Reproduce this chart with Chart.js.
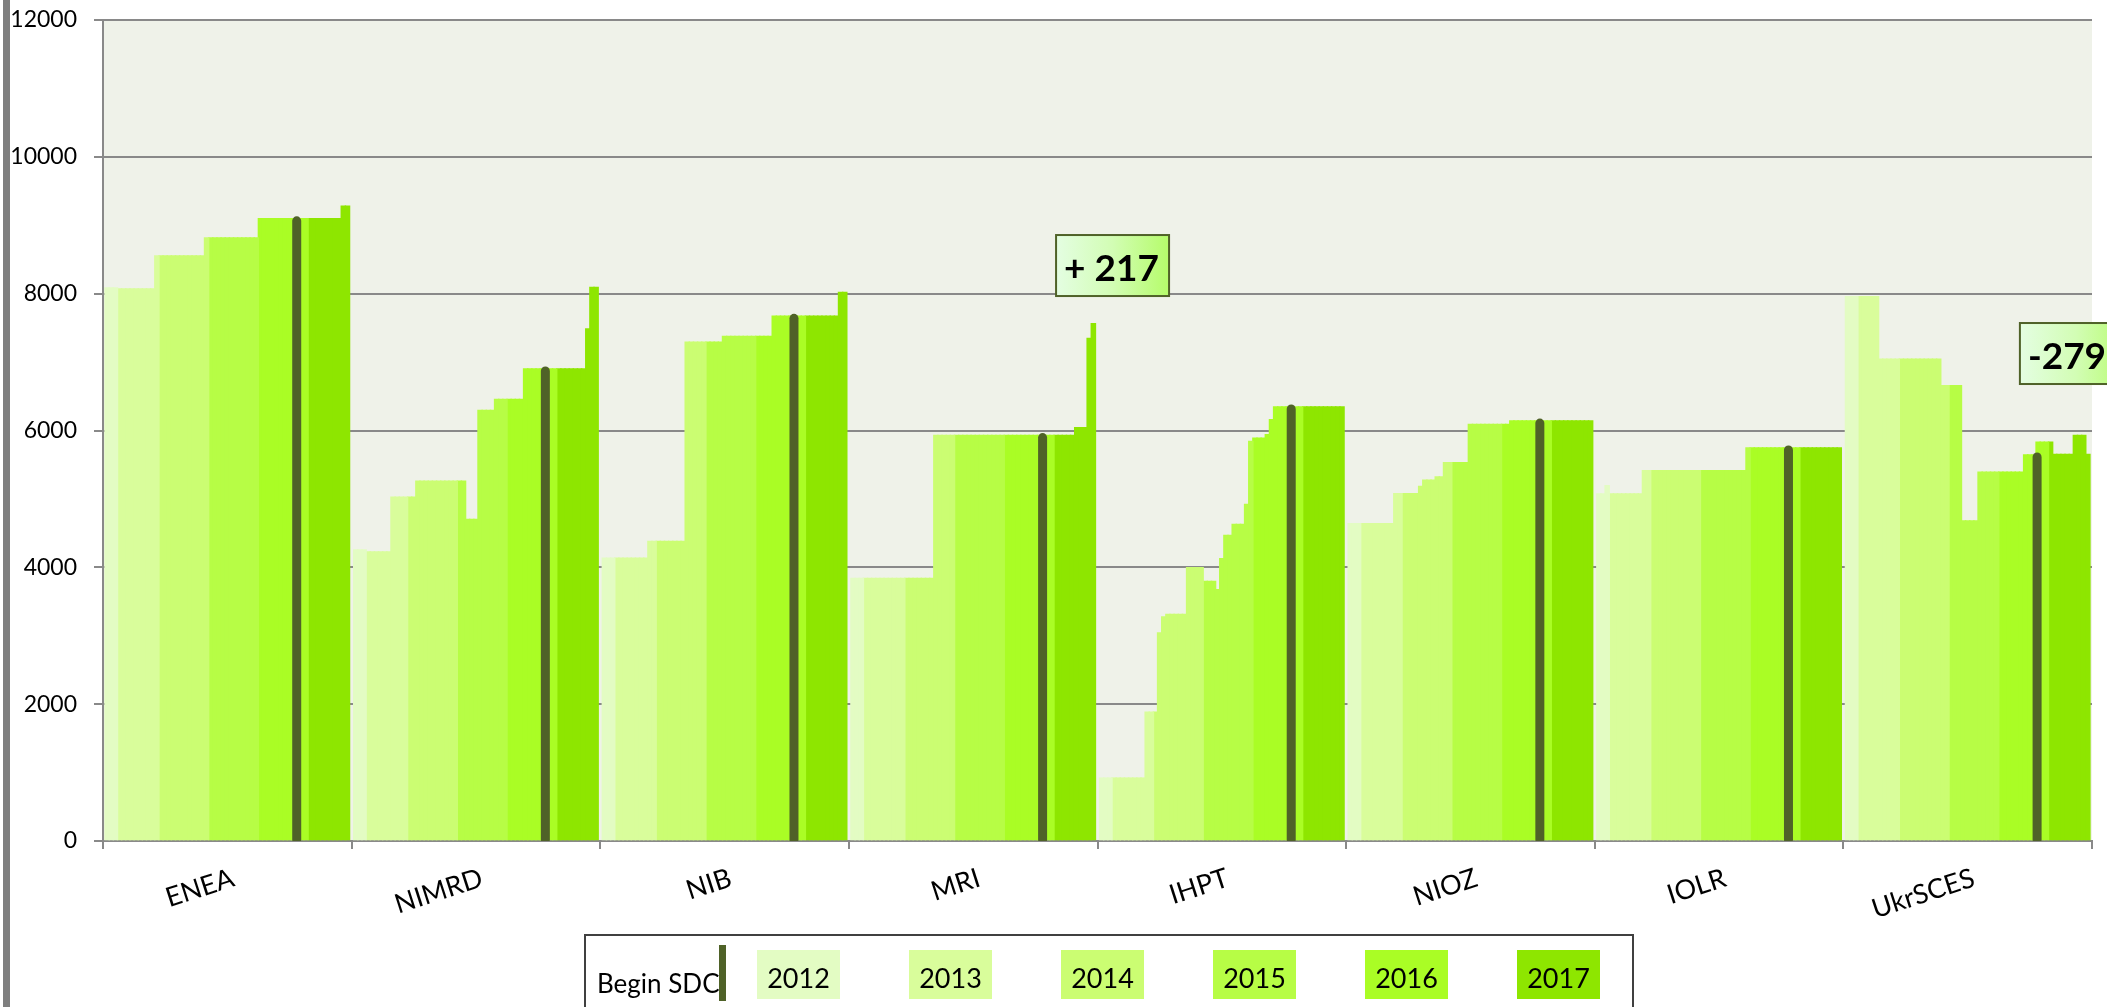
<!DOCTYPE html>
<html>
<head>
<meta charset="utf-8">
<script src="https://cdn.jsdelivr.net/npm/chart.js@4.4.1/dist/chart.umd.min.js"></script>
<style>
  html, body { margin: 0; padding: 0; background: #ffffff; overflow: hidden; }
  #wrap { position: relative; width: 2107px; height: 1007px; }
</style>
</head>
<body>
<div id="wrap"><canvas id="c" width="2107" height="1007"></canvas></div>
<script>
// ---------------- DATA ----------------
const institutes = ['ENEA', 'NIMRD', 'NIB', 'MRI', 'IHPT', 'NIOZ', 'IOLR', 'UkrSCES'];
const years = ['2012', '2013', '2014', '2015', '2016', '2017'];
const yTicks = [0, 2000, 4000, 6000, 8000, 10000, 12000];

// monthly values, one list per year (2012 ... 2017)
const ENEA = [
  [8090, 8090, 8090],
  [8075, 8075, 8075, 8075, 8075, 8075, 8075, 8075, 8075, 8558],
  [8558, 8558, 8558, 8558, 8558, 8558, 8558, 8558, 8558, 8558, 8558, 8820],
  [8820, 8820, 8820, 8820, 8820, 8820, 8820, 8820, 8820, 8820, 8820, 8820],
  [9100, 9100, 9100, 9100, 9100, 9100, 9100, 9100, 9100, 9100, 9100, 9100],
  [9100, 9100, 9100, 9100, 9100, 9100, 9100, 9100, 9285, 9285]
];
const NIMRD = [
  [4260, 4260, 4260],
  [4230, 4230, 4230, 4230, 4230, 4230, 5030, 5030, 5030, 5030],
  [5030, 5030, 5265, 5265, 5265, 5265, 5265, 5265, 5265, 5265, 5265, 5265],
  [5265, 5265, 4705, 4705, 4705, 6300, 6300, 6300, 6300, 6460, 6460, 6460],
  [6460, 6460, 6460, 6460, 6905, 6905, 6905, 6905, 6905, 6905, 6905, 6905],
  [6905, 6905, 6905, 6905, 6905, 6905, 6905, 7490, 8095, 8095]
];
const NIB = [
  [4140, 4140, 4140],
  [4140, 4140, 4140, 4140, 4140, 4140, 4140, 4140, 4385, 4385],
  [4385, 4385, 4385, 4385, 4385, 4385, 4385, 7295, 7295, 7295, 7295, 7295],
  [7295, 7295, 7295, 7295, 7380, 7380, 7380, 7380, 7380, 7380, 7380, 7380],
  [7380, 7380, 7380, 7380, 7675, 7675, 7675, 7675, 7675, 7675, 7675, 7675],
  [7675, 7675, 7675, 7675, 7675, 7675, 7675, 7675, 8025, 8025]
];
const MRI = [
  [3843, 3843, 3843],
  [3843, 3843, 3843, 3843, 3843, 3843, 3843, 3843, 3843, 3843],
  [3843, 3843, 3843, 3843, 3843, 3843, 3843, 5932, 5932, 5932, 5932, 5932],
  [5932, 5932, 5932, 5932, 5932, 5932, 5932, 5932, 5932, 5932, 5932, 5932],
  [5932, 5932, 5932, 5932, 5932, 5932, 5932, 5932, 5932, 5932, 5932, 5932],
  [5932, 5932, 5932, 5932, 5932, 6048, 6048, 6048, 7350, 7567]
];
const IHPT = [
  [925, 925, 925],
  [925, 925, 925, 925, 925, 925, 925, 925, 1890, 1890],
  [1890, 3045, 3280, 3318, 3318, 3318, 3318, 3318, 4000, 4000, 4000, 4000],
  [3800, 3800, 3800, 3678, 4132, 4472, 4472, 4633, 4633, 4633, 4926, 5846],
  [5895, 5895, 5895, 5945, 6165, 6350, 6350, 6350, 6350, 6350, 6350, 6350],
  [6350, 6350, 6350, 6350, 6350, 6350, 6350, 6350, 6350, 6350]
];
const NIOZ = [
  [4642, 4642, 4642],
  [4642, 4642, 4642, 4642, 4642, 4642, 4642, 4642, 5083, 5083],
  [5083, 5083, 5083, 5083, 5187, 5278, 5278, 5278, 5328, 5328, 5534, 5534],
  [5534, 5534, 5534, 5534, 6096, 6096, 6096, 6096, 6096, 6096, 6096, 6096],
  [6096, 6096, 6144, 6144, 6144, 6144, 6144, 6144, 6144, 6144, 6144, 6144],
  [6144, 6144, 6144, 6144, 6144, 6144, 6144, 6144, 6144, 6144]
];
const IOLR = [
  [5079, 5079, 5200],
  [5079, 5079, 5079, 5079, 5079, 5079, 5079, 5079, 5418, 5418],
  [5418, 5418, 5418, 5418, 5418, 5418, 5418, 5418, 5418, 5418, 5418, 5418],
  [5418, 5418, 5418, 5418, 5418, 5418, 5418, 5418, 5418, 5418, 5418, 5752],
  [5752, 5752, 5752, 5752, 5752, 5752, 5752, 5752, 5752, 5752, 5752, 5752],
  [5752, 5752, 5752, 5752, 5752, 5752, 5752, 5752, 5752, 5752]
];
const UkrSCES = [
  [7960, 7960, 7960],
  [7960, 7960, 7960, 7960, 7960, 7047, 7047, 7047, 7047, 7047],
  [7047, 7047, 7047, 7047, 7047, 7047, 7047, 7047, 7047, 7047, 6660, 6660],
  [6660, 6660, 6660, 4683, 4683, 4683, 4683, 5395, 5395, 5395, 5395, 5395],
  [5395, 5395, 5395, 5395, 5395, 5395, 5650, 5650, 5650, 5835, 5835, 5835],
  [5835, 5656, 5656, 5656, 5656, 5656, 5935, 5935, 5935, 5656]
];

// month index (from the first month of each series) at which SDC begins
const sdcBeginMonth = 45.75;
// change labels
const changeInstitutes = ['MRI', 'UkrSCES'];
const changeLabels = ['+ 217', '-279'];

// ---------------- STYLE / LAYOUT ----------------
const yearColors = ['#e3fcc3', '#d9fd9b', '#cbfd72', '#b7fd45', '#aafd25', '#8ee600'];
const sdcColor = '#4f6228';
const gridColor = '#898989';
const plotBg = '#eff2e9';
const SLOTS = 60; // axis units per institute group
const markerStyle = { below: 45, cap: 30, thickness: 9 };
const changeBoxPos = [{ x: 230.0, y: 8857 }, { x: 462.6, y: 7571 }];

const seriesList = [ENEA, NIMRD, NIB, MRI, IHPT, NIOZ, IOLR, UkrSCES];

const yearDatasets = years.map((yr, yi) => {
  const data = [];
  seriesList.forEach((ser, g) => {
    let k = 0;
    for (let j = 0; j < yi; j++) k += ser[j].length;
    ser[yi].forEach((v, i) => data.push({ x: g * SLOTS + 1 + k + i, y: v }));
  });
  return {
    label: yr, data,
    backgroundColor: yearColors[yi],
    xAxisID: 'x', yAxisID: 'y',
    grouped: false,
    barPercentage: 1.2, categoryPercentage: 1, borderWidth: 0,
    inflateAmount: 0.3, order: 1
  };
});

const markerDataset = {
  label: 'Begin SDC',
  data: seriesList.map((ser, g) => {
    const flat = ser.flat();
    return { x: g * SLOTS + 1 + sdcBeginMonth, y: [-markerStyle.below, flat[Math.floor(sdcBeginMonth)] + markerStyle.cap] };
  }),
  backgroundColor: sdcColor,
  xAxisID: 'xm', yAxisID: 'y',
  grouped: false,
  barThickness: markerStyle.thickness,
  borderRadius: 4.5, borderSkipped: false, borderWidth: 0, inflateAmount: 0, order: 0
};

const bgPlugin = {
  id: 'bg',
  beforeDraw(chart) {
    const { ctx, chartArea: a } = chart;
    ctx.save();
    ctx.fillStyle = plotBg;
    ctx.fillRect(a.left, a.top, a.right - a.left, a.bottom - a.top);
    ctx.fillStyle = '#7f7f7f';
    ctx.fillRect(3, 0, 7, chart.height);
    ctx.restore();
  }
};

const overlayPlugin = {
  id: 'overlay',
  afterDraw(chart) {
    const ctx = chart.ctx;
    ctx.save();
    // ----- legend -----
    ctx.strokeStyle = '#404040';
    ctx.lineWidth = 2;
    ctx.beginPath();
    ctx.moveTo(585, chart.height + 5);
    ctx.lineTo(585, 935);
    ctx.lineTo(1633, 935);
    ctx.lineTo(1633, chart.height + 5);
    ctx.stroke();
    ctx.fillStyle = '#000';
    ctx.font = '26px Lato';
    ctx.textAlign = 'left';
    ctx.textBaseline = 'alphabetic';
    ctx.fillText(markerDataset.label, 597, 993);
    ctx.fillStyle = sdcColor;
    ctx.fillRect(719, 945, 7, 56);
    ctx.font = '27px Lato';
    yearDatasets.forEach((ds, i) => {
      const x = 757 + i * 152;
      ctx.fillStyle = ds.backgroundColor;
      ctx.fillRect(x, 950, 83, 49);
      ctx.fillStyle = '#000';
      ctx.textAlign = 'center';
      ctx.fillText(ds.label, x + 41.5, 988);
    });
    // ----- change labels -----
    const xs = chart.scales.x, ys = chart.scales.y;
    changeLabels.forEach((txt, i) => {
      const bx = xs.getPixelForValue(changeBoxPos[i].x);
      const by = ys.getPixelForValue(changeBoxPos[i].y);
      const w = 113, h = 61;
      const grd = ctx.createLinearGradient(bx, 0, bx + w, 0);
      grd.addColorStop(0, '#e4fee2');
      grd.addColorStop(0.5, '#d2fdb4');
      grd.addColorStop(1, '#b5fc6a');
      ctx.fillStyle = grd;
      ctx.fillRect(bx, by, w, h);
      ctx.strokeStyle = sdcColor;
      ctx.lineWidth = 2;
      ctx.strokeRect(bx, by, w, h);
      ctx.fillStyle = '#000';
      ctx.font = 'bold 37px Lato';
      ctx.textAlign = 'left';
      ctx.fillText(txt, bx + 8, by + 46);
    });
    ctx.restore();
  }
};

new Chart(document.getElementById('c'), {
  type: 'bar',
  data: { datasets: [markerDataset, ...yearDatasets] },
  options: {
    responsive: false,
    animation: false,
    layout: { padding: { top: 20, right: 15, left: 0, bottom: 0 } },
    plugins: { legend: { display: false }, tooltip: { enabled: false } },
    scales: {
      x: { type: 'linear', min: 0, max: SLOTS * institutes.length, display: false, offset: false, grid: { offset: false } },
      xm: { type: 'linear', min: 0, max: SLOTS * institutes.length, display: false, offset: false, grid: { offset: false } },
      xg: {
        type: 'category', labels: institutes, position: 'bottom', offset: true,
        grid: { offset: true, drawOnChartArea: false, color: gridColor, lineWidth: 2, tickLength: 8 },
        border: { color: gridColor, width: 2 },
        ticks: { minRotation: 18, maxRotation: 18, autoSkip: false, color: '#000', padding: 13, labelOffset: 6, font: { family: 'Lato', size: 27 } },
        afterFit: s => { s.height = 166; s.paddingLeft = 0; s.paddingRight = 0; }
      },
      y: {
        type: 'linear', min: yTicks[0], max: yTicks[yTicks.length - 1], stacked: false,
        afterBuildTicks: s => { s.ticks = yTicks.map(v => ({ value: v })); },
        ticks: { color: '#000', padding: 17, font: { family: 'Lato', size: 23 }, callback: v => String(v) },
        grid: { color: gridColor, lineWidth: 2, tickLength: 9 },
        border: { color: gridColor, width: 2 },
        afterFit: s => { s.width = 103; s.paddingTop = 0; s.paddingBottom = 0; }
      }
    }
  },
  plugins: [bgPlugin, overlayPlugin]
});
</script>
</body>
</html>
